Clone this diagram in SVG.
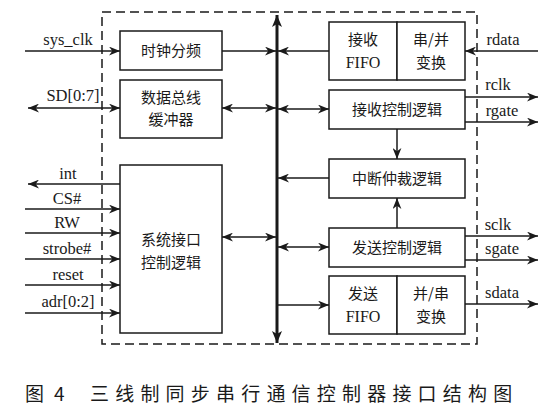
<svg xmlns="http://www.w3.org/2000/svg" width="551" height="409" viewBox="0 0 551 409">
<defs>
<marker id="ah" viewBox="0 0 10 8" refX="10" refY="4" markerWidth="11" markerHeight="9" markerUnits="userSpaceOnUse" orient="auto-start-reverse">
<path d="M0,0 L10,4 L0,8 L3,4 Z" fill="#1a1a1a"/>
</marker>
<marker id="bh" viewBox="0 0 12 10" refX="12" refY="5" markerWidth="12" markerHeight="10" markerUnits="userSpaceOnUse" orient="auto-start-reverse">
<path d="M0,0 L12,5 L0,10 L3,5 Z" fill="#1a1a1a"/>
</marker>
</defs>
<style>
.box{fill:#fff;stroke:#1a1a1a;stroke-width:1.5}
.ln{stroke:#1a1a1a;stroke-width:1.5;fill:none}
.cn{font-family:"Noto Sans CJK SC",sans-serif;font-size:15px;fill:#1a1a1a;text-anchor:middle}
.lat{font-family:"Liberation Serif",serif;font-size:16.5px;fill:#1a1a1a;text-anchor:middle}
.cap{font-family:"Noto Sans CJK SC",sans-serif;font-size:19px;fill:#1a1a1a}
</style>
<rect width="551" height="409" fill="#fff"/>
<rect x="102" y="12" width="375" height="332" fill="none" stroke="#1a1a1a" stroke-width="1.5" stroke-dasharray="9,5"/>

<g id="connectors">
<line class="ln" x1="25" y1="51" x2="120" y2="51" marker-end="url(#ah)"/>
<line class="ln" x1="28" y1="108" x2="120" y2="108" marker-start="url(#ah)" marker-end="url(#ah)"/>
<line class="ln" x1="120" y1="184" x2="28" y2="184" marker-end="url(#ah)"/>
<line class="ln" x1="25" y1="209" x2="120" y2="209" marker-end="url(#ah)"/>
<line class="ln" x1="25" y1="233" x2="120" y2="233" marker-end="url(#ah)"/>
<line class="ln" x1="25" y1="259" x2="120" y2="259" marker-end="url(#ah)"/>
<line class="ln" x1="25" y1="285" x2="120" y2="285" marker-end="url(#ah)"/>
<line class="ln" x1="25" y1="313" x2="120" y2="313" marker-end="url(#ah)"/>
<line class="ln" x1="222" y1="51" x2="276" y2="51" marker-end="url(#ah)"/>
<line class="ln" x1="222" y1="108" x2="276" y2="108" marker-start="url(#ah)" marker-end="url(#ah)"/>
<line class="ln" x1="222" y1="237" x2="276" y2="237" marker-start="url(#ah)" marker-end="url(#ah)"/>
<line class="ln" x1="329" y1="51" x2="278" y2="51" marker-end="url(#ah)"/>
<line class="ln" x1="278" y1="109" x2="329" y2="109" marker-start="url(#ah)" marker-end="url(#ah)"/>
<line class="ln" x1="329" y1="178" x2="278" y2="178" marker-end="url(#ah)"/>
<line class="ln" x1="278" y1="247" x2="329" y2="247" marker-start="url(#ah)" marker-end="url(#ah)"/>
<line class="ln" x1="278" y1="305" x2="329" y2="305" marker-end="url(#ah)"/>
<line class="ln" x1="397" y1="129" x2="397" y2="159" marker-end="url(#ah)"/>
<line class="ln" x1="397" y1="228" x2="397" y2="198" marker-end="url(#ah)"/>
<line class="ln" x1="538" y1="51" x2="465" y2="51" marker-end="url(#ah)"/>
<line class="ln" x1="465" y1="97" x2="538" y2="97" marker-end="url(#ah)"/>
<line class="ln" x1="465" y1="122" x2="538" y2="122" marker-end="url(#ah)"/>
<line class="ln" x1="465" y1="236" x2="538" y2="236" marker-end="url(#ah)"/>
<line class="ln" x1="465" y1="260" x2="538" y2="260" marker-end="url(#ah)"/>
<line class="ln" x1="465" y1="304" x2="538" y2="304" marker-end="url(#ah)"/>
<line x1="277" y1="15" x2="277" y2="343" stroke="#1a1a1a" stroke-width="3" marker-start="url(#bh)" marker-end="url(#bh)"/>
</g>

<g id="labels">
<text class="lat" x="68" y="45">sys_clk</text>
<text class="lat" x="73" y="101">SD[0:7]</text>
<text class="lat" x="68" y="179">int</text>
<text class="lat" x="67" y="204">CS#</text>
<text class="lat" x="67" y="228">RW</text>
<text class="lat" x="67" y="254">strobe#</text>
<text class="lat" x="68" y="280">reset</text>
<text class="lat" x="68" y="307">adr[0:2]</text>
<text class="lat" x="503" y="45">rdata</text>
<text class="lat" x="498" y="90">rclk</text>
<text class="lat" x="502" y="116">rgate</text>
<text class="lat" x="498" y="230">sclk</text>
<text class="lat" x="502" y="254">sgate</text>
<text class="lat" x="502" y="298">sdata</text>
</g>

<g id="clkdiv"><rect class="box" x="120" y="31" width="102" height="39"/><text class="cn" x="171" y="56">时钟分频</text></g>
<g id="databuf"><rect class="box" x="120" y="80" width="102" height="58"/><text class="cn" x="171" y="103">数据总线</text><text class="cn" x="171" y="125">缓冲器</text></g>
<g id="sysif"><rect class="box" x="120" y="165" width="102" height="168"/><text class="cn" x="171" y="245">系统接口</text><text class="cn" x="171" y="268">控制逻辑</text></g>
<g id="rxfifo"><rect class="box" x="329" y="22" width="68" height="58"/><text class="cn" x="363" y="45">接收</text><text class="cn" x="363" y="68" style="font-family:'Liberation Serif',serif;font-size:16px">FIFO</text></g>
<g id="sp"><rect class="box" x="397" y="22" width="68" height="58"/><text class="cn" x="431" y="45">串/并</text><text class="cn" x="431" y="68">变换</text></g>
<g id="rxctl"><rect class="box" x="329" y="90" width="136" height="39"/><text class="cn" x="397" y="115">接收控制逻辑</text></g>
<g id="intarb"><rect class="box" x="329" y="159" width="136" height="39"/><text class="cn" x="397" y="184">中断仲裁逻辑</text></g>
<g id="txctl"><rect class="box" x="329" y="228" width="136" height="39"/><text class="cn" x="397" y="253">发送控制逻辑</text></g>
<g id="txfifo"><rect class="box" x="329" y="276" width="68" height="58"/><text class="cn" x="363" y="299">发送</text><text class="cn" x="363" y="322" style="font-family:'Liberation Serif',serif;font-size:16px">FIFO</text></g>
<g id="ps"><rect class="box" x="397" y="276" width="68" height="58"/><text class="cn" x="431" y="299">并/串</text><text class="cn" x="431" y="322">变换</text></g>

<g id="caption">
<text class="cap" x="25" y="401">图</text>
<text class="cap" x="54" y="401">4</text>
<text class="cap" x="90" y="401" letter-spacing="6.2">三线制同步串行通信控制器接口结构图</text>
</g>
</svg>
